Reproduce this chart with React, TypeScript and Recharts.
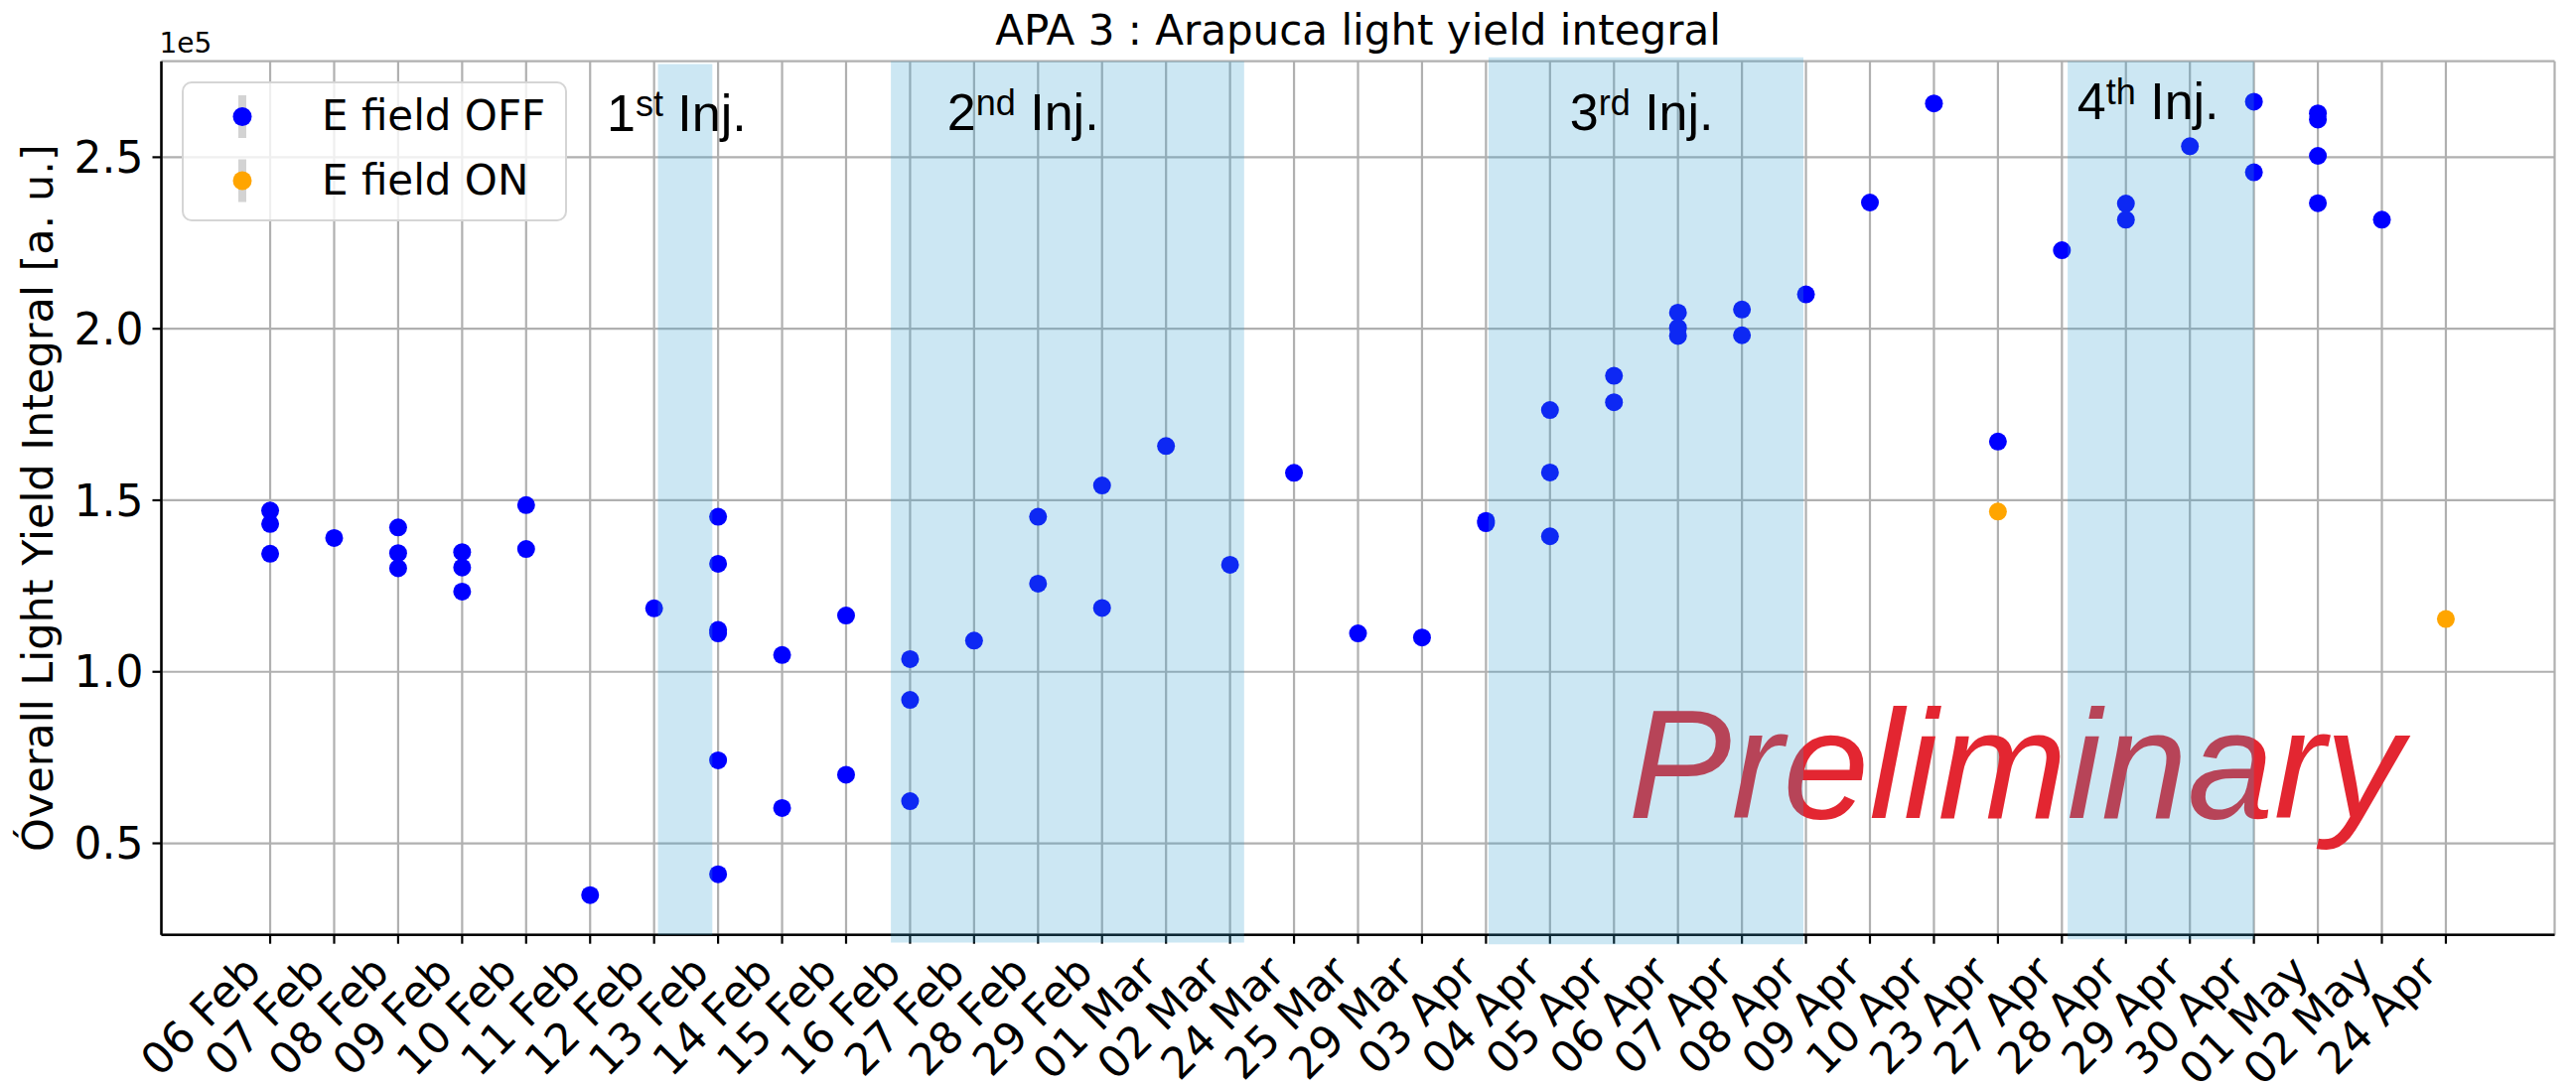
import React from 'react';
import {
  CartesianGrid,
  Legend,
  ReferenceArea,
  ReferenceDot,
  Scatter,
  ScatterChart,
  XAxis,
  YAxis,
} from 'recharts';

const dateLabels = [
  '06 Feb', '07 Feb', '08 Feb', '09 Feb', '10 Feb', '11 Feb', '12 Feb', '13 Feb',
  '14 Feb', '15 Feb', '16 Feb', '27 Feb', '28 Feb', '29 Feb', '01 Mar', '02 Mar',
  '24 Mar', '25 Mar', '29 Mar', '03 Apr', '04 Apr', '05 Apr', '06 Apr', '07 Apr',
  '08 Apr', '09 Apr', '10 Apr', '23 Apr', '27 Apr', '28 Apr', '29 Apr', '30 Apr',
  '01 May', '02 May', '24 Apr',
];

// light yield integral in units of 1e5, one list per run day
const offYield: number[][] = [
  [1.47, 1.431, 1.344], [1.39], [1.421, 1.346, 1.302], [1.349, 1.304, 1.234],
  [1.486, 1.358], [0.349], [1.185], [1.452, 1.315, 1.122, 1.112, 0.742, 0.41],
  [1.049, 0.603], [1.164, 0.7], [1.037, 0.918, 0.623], [1.091], [1.452, 1.257],
  [1.543, 1.186], [1.658], [1.312], [1.58], [1.112], [1.1], [1.44, 1.433],
  [1.763, 1.581, 1.395], [1.863, 1.786], [2.047, 2.003, 1.979], [2.056, 1.981],
  [2.1], [2.368], [2.657], [1.671], [2.229], [2.365, 2.318], [2.532], [2.662, 2.456],
  [2.628, 2.61, 2.504, 2.366], [2.318], [],
];
const onDays = [27, 34];
const onYield = [1.467, 1.154];

const yTicks = [0.5, 1.0, 1.5, 2.0, 2.5];

// injection periods, in x (day index) and y (1e5) units
const injOrdinal = ['1', '2', '3', '4'];
const injSuffix = ['st', 'nd', 'rd', 'th'];
const injFrom = [6.06, 9.7, 19.04, 28.09];
const injTo = [6.91, 15.22, 23.96, 31.0];
const injLow = [0.2332, 0.2106, 0.2057, 0.2201];
const injHigh = [2.772, 2.78, 2.791, 2.78];
const injTextX = [5.26, 10.58, 20.31, 28.24];
const injTextY = [2.577, 2.58, 2.58, 2.611];

const offPoints = offYield.flatMap((vals, i) => vals.map((v) => ({ x: i, y: v * 1e5 })));
const onPoints = onDays.map((d, i) => ({ x: d, y: onYield[i] * 1e5 }));

const FONT = 'DejaVu Sans';
const xDomain: [number, number] = [-1.7, 35.7];
const yDomain: [number, number] = [23330, 277980];

const dot = (color: string) => (p: any) => <circle cx={p.cx} cy={p.cy} r={9} fill={color} />;

const XTick = (props: any) => {
  const { x, y, payload } = props;
  const ex = x - 7;
  const ey = y + 31;
  return (
    <text
      x={ex}
      y={ey}
      textAnchor="end"
      transform={`rotate(-45 ${ex} ${ey})`}
      fontSize={44}
      fontFamily={FONT}
      fill="#000"
    >
      {dateLabels[payload.value]}
    </text>
  );
};

const YLabel = (props: any) => {
  const vb = props.viewBox;
  const cx = vb.x + 53;
  const cy = vb.y + vb.height / 2;
  return (
    <text x={cx} y={cy} transform={`rotate(-90 ${cx} ${cy})`} textAnchor="middle" fontSize={43} fontFamily={FONT} fill="#000">
      Óverall Light Yield Integral [a. u.]
    </text>
  );
};

const LegendBox = (props: any) => {
  const items = props.payload || [];
  return (
    <svg width={388} height={141}>
      <rect x={1} y={1} width={386} height={139} rx={9} fill="#fff" fillOpacity={0.8} stroke="#d5d5d5" strokeWidth={2} />
      {items.map((it: any, i: number) => (
        <g key={it.value}>
          <line x1={61} x2={61} y1={14 + i * 64.5} y2={57 + i * 64.5} stroke="#d3d3d3" strokeWidth={8} />
          <circle cx={61} cy={35.5 + i * 64.5} r={9.5} fill={it.color} />
          <text x={141} y={49 + i * 64.5} fontSize={42} fontFamily={FONT} fill="#000">
            {it.value}
          </text>
        </g>
      ))}
    </svg>
  );
};

const InjText = (i: number) => (p: any) => (
  <text x={p.cx} y={p.cy} fontSize={52} fontFamily="Liberation Sans" fill="#000">
    <tspan>{injOrdinal[i]}</tspan>
    <tspan dy={-15} fontSize={36}>{injSuffix[i]}</tspan>
    <tspan dy={15}>{' Inj.'}</tspan>
  </text>
);

const Prelim = (p: any) => (
  <text x={p.cx} y={p.cy} fontSize={156} fontStyle="italic" fontFamily="Liberation Sans" fill="#e32631">
    Preliminary
  </text>
);

export default function App() {
  return (
    <div style={{ position: 'absolute', left: 0, top: 0, width: 2594, height: 1094, background: '#fff' }}>
      <ScatterChart width={2594} height={1094} margin={{ top: 61.7, right: 21.5, bottom: 0, left: 0 }}>
        <CartesianGrid stroke="#b0b0b0" strokeWidth={2.2} />
        <XAxis
          dataKey="x"
          type="number"
          domain={xDomain}
          allowDataOverflow
          ticks={dateLabels.map((_, i) => i)}
          interval={0}
          height={152.3}
          tickSize={9}
          tickMargin={0}
          tick={<XTick />}
          axisLine={{ stroke: '#000', strokeWidth: 2.5 }}
          tickLine={{ stroke: '#000', strokeWidth: 2.2 }}
        />
        <XAxis
          xAxisId="top"
          orientation="top"
          type="number"
          domain={xDomain}
          allowDataOverflow
          height={0}
          tick={false}
          tickLine={false}
          axisLine={{ stroke: '#000', strokeWidth: 2.5 }}
        />
        <YAxis
          dataKey="y"
          type="number"
          domain={yDomain}
          allowDataOverflow
          ticks={yTicks.map((t) => t * 1e5)}
          tickFormatter={(v: number) => (v / 1e5).toFixed(1)}
          width={162.5}
          tickSize={9}
          tickMargin={9}
          tick={{ fill: '#000', fontSize: 44, fontFamily: FONT }}
          axisLine={{ stroke: '#000', strokeWidth: 2.5 }}
          tickLine={{ stroke: '#000', strokeWidth: 2.2 }}
          label={{ content: <YLabel /> }}
        />
        <YAxis
          yAxisId="right"
          orientation="right"
          type="number"
          domain={yDomain}
          allowDataOverflow
          width={0}
          tick={false}
          tickLine={false}
          axisLine={{ stroke: '#000', strokeWidth: 2.5 }}
        />
        <Scatter name="E field OFF" data={offPoints} fill="#0000ff" shape={dot('#0000ff')} isAnimationActive={false} />
        <Scatter name="E field ON" data={onPoints} fill="#ffa500" shape={dot('#ffa500')} isAnimationActive={false} />
        <ReferenceDot x={21.22} y={57400} r={0} ifOverflow="visible" shape={Prelim} zIndex={650} />
        {injFrom.map((x1, i) => (
          <ReferenceArea
            key={`inj${i}`}
            x1={x1}
            x2={injTo[i]}
            y1={injLow[i] * 1e5}
            y2={injHigh[i] * 1e5}
            ifOverflow="visible"
            fill="#339fcf"
            fillOpacity={0.25}
            stroke="none"
            zIndex={700}
          />
        ))}
        {injTextX.map((x, i) => (
          <ReferenceDot
            key={`lbl${i}`}
            x={x}
            y={injTextY[i] * 1e5}
            r={0}
            ifOverflow="visible"
            shape={InjText(i)}
            zIndex={800}
          />
        ))}
        <Legend
          layout="vertical"
          align="center"
          verticalAlign="middle"
          content={<LegendBox />}
          wrapperStyle={{ position: 'absolute', left: 183, top: 82, width: 388, height: 141 }}
        />
      </ScatterChart>
      <svg width={2594} height={100} style={{ position: 'absolute', left: 0, top: 0, pointerEvents: 'none' }}>
        <text x={1367.5} y={45} textAnchor="middle" fontSize={42} fontFamily={FONT} fill="#000">
          APA 3 : Arapuca light yield integral
        </text>
        <text x={160.5} y={53} fontSize={28} fontFamily={FONT} fill="#000">
          1e5
        </text>
      </svg>
    </div>
  );
}
